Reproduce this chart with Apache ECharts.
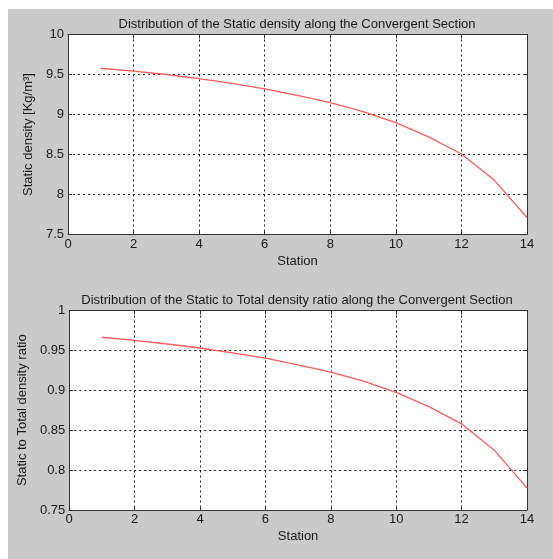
<!DOCTYPE html>
<html>
<head>
<meta charset="utf-8">
<script src="https://cdn.jsdelivr.net/npm/echarts@6/dist/echarts.min.js"></script>
<style>
html,body{margin:0;padding:0;background:#ffffff;width:553px;height:559px;overflow:hidden;}
#c{position:absolute;left:8px;top:9px;width:545px;height:550px;}
</style>
</head>
<body>
<div id="c"></div>
<script>
const stations = [1,2,3,4,5,6,7,8,9,10,11,12,13,14];
const staticDensity = [9.578, 9.541, 9.500, 9.449, 9.390, 9.320, 9.240, 9.149, 9.036, 8.898, 8.720, 8.506, 8.180, 7.713];
const densityRatio = [0.9665, 0.9625, 0.9580, 0.9530, 0.9470, 0.9402, 0.9320, 0.9228, 0.9115, 0.8975, 0.8795, 0.8580, 0.8250, 0.7777];
const xTicks = [0,2,4,6,8,10,12,14];
const yTicksTop = [7.5,8,8.5,9,9.5,10];
const yTicksBottom = [0.75,0.8,0.85,0.9,0.95,1];
const title1 = 'Distribution of the Static density along the Convergent Section';
const title2 = 'Distribution of the Static to Total density ratio along the Convergent Section';

const FONT = '"Liberation Sans", Arial, sans-serif';
const TXT = '#1a1a1a';
const chart = echarts.init(document.getElementById('c'));

function xA(gi, pos) {
  const main = pos === 'bottom';
  return {
    type:'value', gridIndex: gi, position: pos, min: 0, max: 14, interval: 2,
    name: main ? 'Station' : '', nameLocation:'middle', nameGap: 20,
    nameTextStyle:{fontFamily:FONT, fontSize:13, color:TXT},
    axisLine:{show:true, onZero:false, lineStyle:{color:'#333', width:1}},
    axisTick:{show:true, inside:true, length:4, lineStyle:{color:'#333'}},
    axisLabel:{show: main, fontFamily:FONT, fontSize:13, color:TXT, margin:3,
      formatter: v => xTicks.indexOf(v) >= 0 ? String(v) : ''},
    splitLine:{show: main, lineStyle:{color:'#222', type:[2,3], width:1}}
  };
}
function yA(gi, pos, mn, mx, iv, nm, gap, ticks) {
  const main = pos === 'left';
  return {
    type:'value', gridIndex: gi, position: pos, min: mn, max: mx, interval: iv,
    name: main ? nm : '', nameLocation:'middle', nameGap: gap, nameRotate: 90,
    nameTextStyle:{fontFamily:FONT, fontSize:13, color:TXT},
    axisLine:{show:true, onZero:false, lineStyle:{color:'#333', width:1}},
    axisTick:{show:true, inside:true, length:4, lineStyle:{color:'#333'}},
    axisLabel:{show: main, fontFamily:FONT, fontSize:13, color:TXT, margin:4,
      formatter: v => { const t = ticks.find(k => Math.abs(k - v) < 1e-9); return t === undefined ? '' : String(t); }},
    splitLine:{show: main, lineStyle:{color:'#222', type:[2,3], width:1}}
  };
}

chart.setOption({
  backgroundColor:'#cacaca',
  animation:false,
  title:[
    {text:title1, left:284, top:4, textAlign:'center', textStyle:{fontFamily:FONT, fontSize:13, fontWeight:'normal', color:TXT}},
    {text:title2, left:284, top:280, textAlign:'center', textStyle:{fontFamily:FONT, fontSize:13, fontWeight:'normal', color:TXT}}
  ],
  grid:[
    {left:60, top:25.5, width:459, height:200, show:true, backgroundColor:'#ffffff', borderWidth:0},
    {left:60, top:301.5, width:459, height:199.5, show:true, backgroundColor:'#ffffff', borderWidth:0}
  ],
  xAxis:[ xA(0,'bottom'), xA(0,'top'), xA(1,'bottom'), xA(1,'top') ],
  yAxis:[
    yA(0,'left',7.5,10,0.5,'Static density [Kg/m³]',31,yTicksTop),
    yA(0,'right',7.5,10,0.5,'',0,yTicksTop),
    yA(1,'left',0.75,1,0.05,'Static to Total density ratio',38,yTicksBottom),
    yA(1,'right',0.75,1,0.05,'',0,yTicksBottom)
  ],
  series:[
    {type:'line', xAxisIndex:0, yAxisIndex:0, data: stations.map((s,i)=>[s, staticDensity[i]]),
      showSymbol:false, lineStyle:{color:'#ff5a5a', width:1.3}},
    {type:'line', xAxisIndex:2, yAxisIndex:2, data: stations.map((s,i)=>[s, densityRatio[i]]),
      showSymbol:false, lineStyle:{color:'#ff5a5a', width:1.3}}
  ]
});
</script>
</body>
</html>
